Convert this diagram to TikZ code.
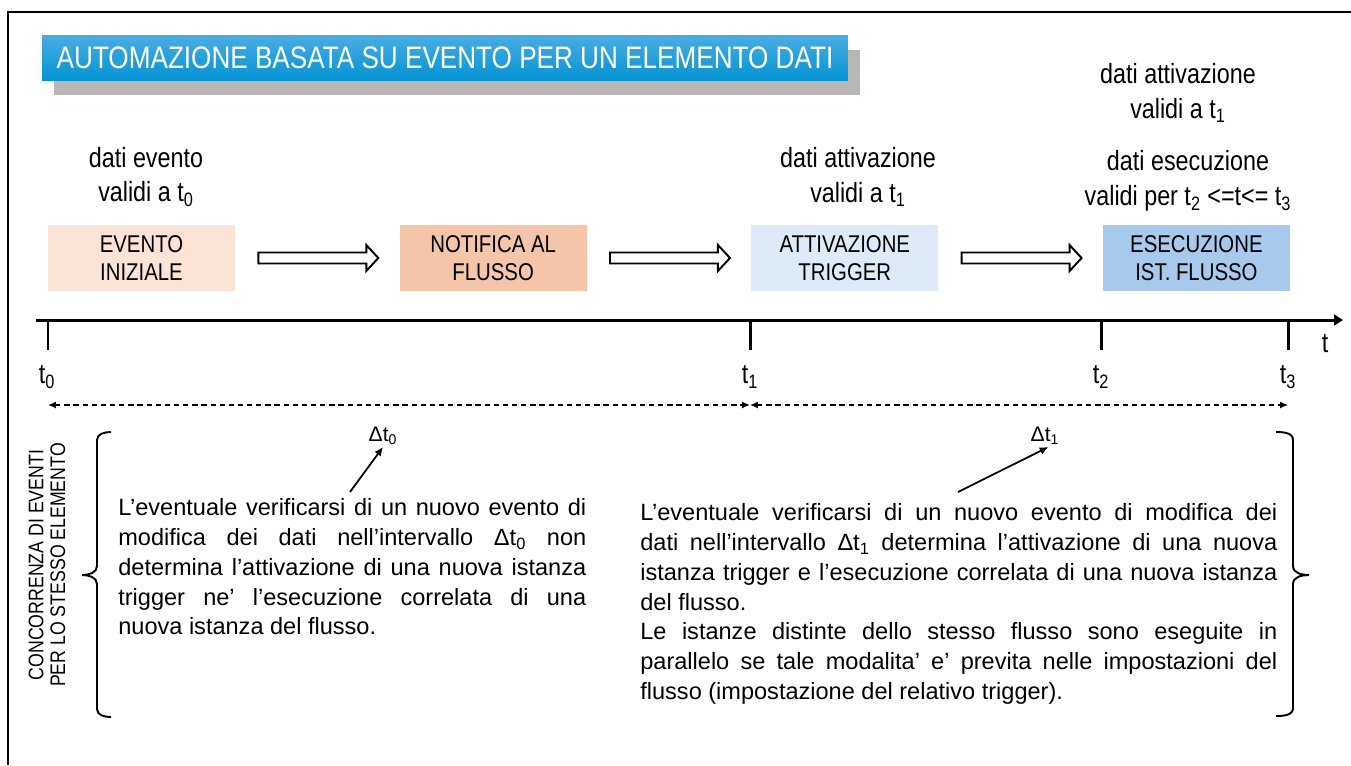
\documentclass[tikz,border=0pt]{standalone}
\usepackage{fontspec}
\setmainfont{Liberation Sans}
\newfontfamily\narrowfont[FakeStretch=0.84]{Liberation Sans}
\usetikzlibrary{arrows.meta,positioning,calc,shadows}
\definecolor{titletop}{RGB}{74,172,226}
\definecolor{titlebot}{RGB}{4,148,211}
\definecolor{evcol}{RGB}{251,227,214}
\definecolor{notcol}{RGB}{245,197,170}
\definecolor{attcol}{RGB}{221,234,247}
\definecolor{esecol}{RGB}{166,201,236}
\tikzset{
	box/.style={rectangle,minimum width=3.74cm,minimum height=1.32cm,inner sep=0pt,align=center,font=\narrowfont\fontsize{13.8}{15.9}\selectfont},
	lbl/.style={align=center,inner sep=1pt,font=\narrowfont\fontsize{15.8}{19.8}\selectfont},
	dlbl/.style={inner sep=1pt,font=\fontsize{12}{14}\selectfont},
	banner/.style={minimum width=16.12cm,minimum height=0.9cm,inner sep=0pt,top color=titletop,bottom color=titlebot,text=white,font=\narrowfont\fontsize{17.7}{20}\selectfont,drop shadow={shadow xshift=0.24cm,shadow yshift=-0.3cm,fill=black!40,opacity=0.7}},
	hollow/.style={draw,line width=1.1pt,fill=white},
	tickmark/.style={line width=1.7pt},
	dimline/.style={{Latex[length=4.5pt,width=4pt]}-{Latex[length=4.5pt,width=4pt]},dash pattern=on 3pt off 2.2pt,line width=0.8pt},
	ptr/.style={-{Latex[length=5pt,width=4.5pt]},line width=1pt},
	brk/.style={line width=1.1pt},
	para/.style={anchor=north west,inner sep=0pt,align=justify,font=\fontsize{13.4}{17}\selectfont,execute at begin node=\setlength{\parindent}{0pt}},
	sidetxt/.style={rotate=90,align=center,inner sep=0pt,font=\narrowfont\fontsize{12}{12.4}\selectfont}
}
\newcommand{\blockarrow}[2]{%
	\draw[hollow] ($(#1.east)+(23,-5.5)$) -- ($(#2.west)+(-33,-5.5)$) -- ($(#2.west)+(-33,-13)$) -- ($(#2.west)+(-21,0)$) -- ($(#2.west)+(-33,13)$) -- ($(#2.west)+(-33,5.5)$) -- ($(#1.east)+(23,5.5)$) -- cycle;}

\begin{document}
\begin{tikzpicture}[x=0.02cm,y=-0.02cm]
	\useasboundingbox (0,0) rectangle (1351,765);
	\draw[line width=1.2pt] (8,765) -- (8,12) -- (1351,12);

	\node[banner] (title) at (445,57.5) {AUTOMAZIONE BASATA SU EVENTO PER UN ELEMENTO DATI};

	\node[box,fill=evcol] (ev) at (141.5,258) {EVENTO\\INIZIALE};
	\node[box,fill=notcol,right=3.28cm of ev] (notif) {NOTIFICA AL\\FLUSSO};
	\node[box,fill=attcol,right=3.28cm of notif] (attiv) {ATTIVAZIONE\\TRIGGER};
	\node[box,fill=esecol,right=3.28cm of attiv] (esec) {ESECUZIONE\\IST. FLUSSO};
	\blockarrow{ev}{notif}
	\blockarrow{notif}{attiv}
	\blockarrow{attiv}{esec}

	\node[lbl] (dev) at (146,177) {dati evento\\validi a t\textsubscript{0}};
	\node[lbl] (datt) at (858,177) {dati attivazione\\validi a t\textsubscript{1}};
	\node[lbl] (datt2) at (1178,93) {dati attivazione\\validi a t\textsubscript{1}};
	\node[lbl] (dese) at (1188,181) {dati esecuzione\\validi per t\textsubscript{2} <=t<= t\textsubscript{3}};

	\draw[line width=1.7pt,-{Triangle[length=5pt,width=6pt]}] (36,320) -- (1343,320);
	\coordinate (t0) at (48,320);
	\coordinate (t1) at (750,320);
	\coordinate (t2) at (1101,320);
	\coordinate (t3) at (1288,320);
	\foreach \c in {t0,t1,t2,t3}
		\draw[tickmark] (\c) -- ++(0,30);
	\node[lbl] (taxis) at (1325,344) {t};
	\node[lbl] (lt0) at (47,377) {t\textsubscript{0}};
	\node[lbl] (lt1) at (750,377) {t\textsubscript{1}};
	\node[lbl] (lt2) at (1101,377) {t\textsubscript{2}};
	\node[lbl] (lt3) at (1288,377) {t\textsubscript{3}};

	\draw[dimline] ($(t0)+(0,85)$) -- ($(t1)+(0,85)$);
	\draw[dimline] ($(t1)+(0,85)$) -- ($(t3)+(0,85)$);

	\node[dlbl] (dt0) at (383,436) {Δt\textsubscript{0}};
	\node[dlbl] (dt1) at (1045,436) {Δt\textsubscript{1}};
	\coordinate (p0) at (350,492);
	\coordinate (p1) at (958,492);
	\draw[ptr] (p0) -- (dt0.south);
	\draw[ptr] (p1) -- ([xshift=2pt]dt1.south);

	\node[sidetxt] (conc) at (47,565) {CONCORRENZA DI EVENTI\\PER LO STESSO ELEMENTO};
	\draw[brk] (111,432) to[out=180,in=90] (97,440) -- (97,566) to[out=-90,in=0] (82,575) to[out=0,in=90] (97,584) -- (97,709) to[out=-90,in=180] (111,717);
	\draw[brk] (1276,432) to[out=0,in=90] (1293,440) -- (1293,566) to[out=-90,in=180] (1309,575) to[out=180,in=90] (1293,584) -- (1293,708) to[out=-90,in=0] (1276,716);

	\node[para,text width=9.36cm] (txt0) at (118,498) {L’eventuale verificarsi di un nuovo evento di\linebreak modifica dei dati nell’intervallo Δt\textsubscript{0} non\linebreak determina l’attivazione di una nuova istanza\linebreak trigger ne’ l’esecuzione correlata di una\linebreak nuova istanza del flusso.};
	\node[para,text width=12.74cm] (txt1) at (640,503) {L’eventuale verificarsi di un nuovo evento di modifica dei\linebreak dati nell’intervallo Δt\textsubscript{1} determina l’attivazione di una nuova\linebreak istanza trigger e l’esecuzione correlata di una nuova istanza\linebreak del flusso.\par Le istanze distinte dello stesso flusso sono eseguite in\linebreak parallelo se tale modalita’ e’ previta nelle impostazioni del\linebreak flusso (impostazione del relativo trigger).};
\end{tikzpicture}
\end{document}
